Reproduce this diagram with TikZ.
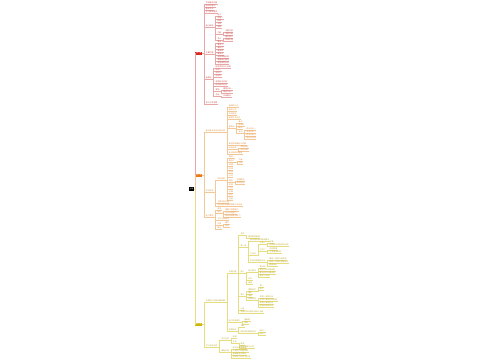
\documentclass[tikz,border=0pt]{standalone}
\usepackage{fontspec}
\setmainfont{Noto Sans CJK SC}
\definecolor{rT}{HTML}{C8504F}
\definecolor{rL}{HTML}{E8A8A8}
\definecolor{rF}{HTML}{D42A22}
\definecolor{oT}{HTML}{DC9448}
\definecolor{oL}{HTML}{F3C898}
\definecolor{oF}{HTML}{EA7A15}
\definecolor{yT}{HTML}{B8AA38}
\definecolor{yL}{HTML}{E6DC80}
\definecolor{yF}{HTML}{CDB60A}
\tikzset{
  leafbase/.style={anchor=south west, inner xsep=0.3pt, inner ysep=0.4pt, font=\fontsize{1.9}{1.9}\selectfont},
  lfr/.style={leafbase, text=rT},
  lfo/.style={leafbase, text=oT},
  lfy/.style={leafbase, text=yT},
  lnr/.style={draw=rL, line width=0.3pt},
  lno/.style={draw=oL, line width=0.3pt},
  lny/.style={draw=yL, line width=0.3pt},
  mainbox/.style={minimum width=7pt, minimum height=3pt, inner sep=0pt, text=white, font=\fontsize{1.6}{1.6}\selectfont},
}
% first-level child: name, parent, y, text, branch
\newcommand\mmf[5]{%
  \node[lf#5, xshift=3pt] (#1) at (#2.east |- 0,#3) {#4};
  \draw[ln#5] (#1.south west) -- (#1.south east);
  \draw[ln#5] (#2.east) -- ++(1.5pt,0) |- (#1.south west);
}
% deeper child
\newcommand\mmn[5]{%
  \node[lf#5, xshift=3pt] (#1) at (#2.south east |- 0,#3) {#4};
  \draw[ln#5] (#1.south west) -- (#1.south east);
  \draw[ln#5] (#2.south east) -- ++(1.5pt,0) |- (#1.south west);
}
\begin{document}
\begin{tikzpicture}[x=1pt,y=-1pt]
\useasboundingbox (0,0) rectangle (500,360);
% root and main branches
\node[fill=black, minimum width=5pt, minimum height=4pt, inner sep=0pt, text=white, font=\fontsize{1.6}{1.6}\selectfont] (R) at (191.5,189) {主题};
\node[mainbox, fill=rF] (M1) at (198.7,53) {第一章};
\node[mainbox, fill=oF] (M2) at (198.7,175) {第二章};
\node[mainbox, fill=yF] (M3) at (198.7,324) {第三章};
\draw[rL, line width=0.45pt] (R.east) -- ++(1pt,0) |- (M1.west);
\draw[oL, line width=0.45pt] (R.east) -- ++(1pt,0) |- (M2.west);
\draw[yL, line width=0.45pt] (R.east) -- ++(1pt,0) |- (M3.west);

% ---------------- red
\mmf{r1}{M1}{4}{学科概述内容}{r}
\mmf{r2}{M1}{7}{研究对象与}{r}
\mmf{r3}{M1}{10}{基本方法}{r}
\mmf{r4}{M1}{13}{学习目标要求}{r}
\mmf{r5}{M1}{27}{核心概念}{r}
 \mmn{r5a}{r5}{16}{定义}{r}
 \mmn{r5b}{r5}{19}{特征一}{r}
 \mmn{r5c}{r5}{22}{性质}{r}
 \mmn{r5d}{r5}{25}{分类}{r}
 \mmn{r5e}{r5}{28}{结构}{r}
 \mmn{r5f}{r5}{34}{功能}{r}
  \mmn{r5fa}{r5f}{32}{主要功能}{r}
  \mmn{r5fb}{r5f}{35}{次要作用}{r}
 \mmn{r5g}{r5}{40}{意义}{r}
  \mmn{r5ga}{r5g}{38}{理论意义}{r}
  \mmn{r5gb}{r5g}{41}{实践价值}{r}
\mmf{r6}{M1}{54}{主要内容}{r}
 \mmn{r6a}{r6}{43}{要点一}{r}
 \mmn{r6b}{r6}{46}{要点二}{r}
 \mmn{r6c}{r6}{49}{要点三}{r}
 \mmn{r6d}{r6}{52}{要点四}{r}
 \mmn{r6e}{r6}{55}{要点五}{r}
 \mmn{r6f}{r6}{58}{相关原理说明}{r}
 \mmn{r6g}{r6}{61}{重要结论推导}{r}
 \mmn{r6h}{r6}{64}{典型例题分析}{r}
\mmf{r7}{M1}{79}{拓展点}{r}
 \mmn{r7a}{r7}{68}{相关学科交叉应用}{r}
 \mmn{r7b}{r7}{71}{应用一}{r}
 \mmn{r7c}{r7}{74}{应用二}{r}
 \mmn{r7d}{r7}{77}{应用三}{r}
 \mmn{r7e}{r7}{83}{发展历史沿革}{r}
 \mmn{r7f}{r7}{86}{前沿研究动态}{r}
 \mmn{r7g}{r7}{91}{案例}{r}
  \mmn{r7ga}{r7g}{90}{案例分析一}{r}
  \mmn{r7gb}{r7g}{93}{案例分析二}{r}
 \mmn{r7h}{r7}{96}{总结}{r}
  \mmn{r7ha}{r7h}{97}{归纳要点}{r}
\mmf{r8}{M1}{104}{复习与思考题}{r}

% ---------------- orange
\mmf{o1}{M2}{132}{重点难点知识归纳总结}{o}
 \mmn{o1a}{o1}{107}{基础知识点}{o}
 \mmn{o1b}{o1}{111}{基本公式}{o}
 \mmn{o1c}{o1}{115}{常见题型}{o}
 \mmn{o1d}{o1}{119}{解题方法技巧}{o}
 \mmn{o1e}{o1}{128}{重难点}{o}
  \mmn{o1ea}{o1e}{123}{难点}{o}
  \mmn{o1eb}{o1e}{126}{易错点}{o}
  \mmn{o1ec}{o1e}{129}{疑点}{o}
  \mmn{o1ed}{o1e}{133}{考点}{o}
   \mmn{o1eda}{o1ed}{130}{考点分析一}{o}
   \mmn{o1edb}{o1ed}{133}{考点分析二}{o}
   \mmn{o1edc}{o1ed}{136}{考点分析三}{o}
   \mmn{o1edd}{o1ed}{139}{考点分析四}{o}
 \mmn{o1f}{o1}{145}{典型例题解析与讲解}{o}
 \mmn{o1g}{o1}{149}{综合应用}{o}
  \mmn{o1ga}{o1g}{148}{实际问题}{o}
  \mmn{o1gb}{o1g}{151}{综合训练}{o}
 \mmn{o1h}{o1}{154}{知识网络构建图}{o}
\mmf{o2}{M2}{192}{知识体系}{o}
 \mmn{o2a}{o2}{180}{知识结构}{o}
  \mmn{o2a1}{o2a}{158}{概念一}{o}
  \mmn{o2a2}{o2a}{162}{概念二}{o}
   \mmn{o2a2a}{o2a2}{161}{内涵}{o}
   \mmn{o2a2b}{o2a2}{164}{外延}{o}
  \mmn{o2a3}{o2a}{166}{原理}{o}
  \mmn{o2a4}{o2a}{170}{规律}{o}
  \mmn{o2a5}{o2a}{173}{定律}{o}
  \mmn{o2a6}{o2a}{177}{公式}{o}
  \mmn{o2a7}{o2a}{182}{模型}{o}
   \mmn{o2a7a}{o2a7}{181}{物理模型}{o}
   \mmn{o2a7b}{o2a7}{184}{数学模型}{o}
  \mmn{o2a8}{o2a}{186}{实验}{o}
  \mmn{o2a9}{o2a}{189}{方法}{o}
  \mmn{o2a10}{o2a}{193}{步骤}{o}
  \mmn{o2a11}{o2a}{196}{结论}{o}
  \mmn{o2a12}{o2a}{200}{应用}{o}
 \mmn{o2b}{o2}{203}{主要考查内容}{o}
 \mmn{o2c}{o2}{206}{常见题型及解题思路方法总结}{o}
\mmf{o3}{M2}{217}{能力要求}{o}
 \mmn{o3a}{o3}{210}{要求}{o}
 \mmn{o3b}{o3}{213}{能力}{o}
  \mmn{o3ba}{o3b}{211}{理解与掌握能力}{o}
  \mmn{o3bb}{o3b}{214}{分析问题能力}{o}
  \mmn{o3bc}{o3b}{217}{综合运用知识能力}{o}
 \mmn{o3c}{o3}{220}{学习方法建议}{o}
 \mmn{o3d}{o3}{225}{注意}{o}
  \mmn{o3da}{o3d}{224}{细节}{o}
  \mmn{o3db}{o3d}{227}{规范}{o}
 \mmn{o3e}{o3}{229}{备注}{o}

% ---------------- yellow
\mmf{y1}{M3}{302}{专题知识内容详细讲解}{y}
 \mmn{ya}{y1}{273}{专题内容}{y}
  \mmn{ya1}{ya}{235}{总述}{y}
   \mmn{ya1a}{ya1}{238}{整体框架梳理}{y}
  \mmn{ya2}{ya}{247}{第一部}{y}
   \mmn{ya21}{ya2}{241}{基本理论知识概述要点}{y}
   \mmn{ya22}{ya2}{255}{方法论}{y}
    \mmn{ya221}{ya22}{244}{方法一}{y}
     \mmn{ya221a}{ya221}{243}{步骤}{y}
     \mmn{ya221b}{ya221}{246}{具体操作流程说明示例}{y}
    \mmn{ya222}{ya22}{251}{方法二}{y}
     \mmn{ya222a}{ya222}{250}{适用范围}{y}
     \mmn{ya222b}{ya222}{253}{注意事项说明}{y}
   \mmn{ya23}{ya2}{262}{实际应用案例分析}{y}
    \mmn{ya23a}{ya23}{260}{案例一背景介绍说明}{y}
    \mmn{ya23b}{ya23}{263}{案例二过程与结果分析}{y}
    \mmn{ya23c}{ya23}{266}{案例启示}{y}
  \mmn{ya3}{ya}{273}{第二}{y}
   \mmn{ya31}{ya3}{272}{核心要点}{y}
    \mmn{ya31a}{ya31}{268}{要点甲}{y}
    \mmn{ya31b}{ya31}{271}{要点乙的详细说明}{y}
    \mmn{ya31c}{ya31}{274}{要点丙的详细说明}{y}
    \mmn{ya31d}{ya31}{277}{要点丁说明}{y}
   \mmn{ya32}{ya3}{280}{补充}{y}
   \mmn{ya33}{ya3}{284}{延伸}{y}
  \mmn{ya4}{ya}{296}{第三}{y}
   \mmn{ya41}{ya4}{291}{重要结论}{y}
    \mmn{ya41a}{ya41}{287}{其一}{y}
    \mmn{ya41b}{ya41}{290}{其二}{y}
   \mmn{ya42}{ya4}{294}{推论}{y}
   \mmn{ya43}{ya4}{297}{证明}{y}
   \mmn{ya44}{ya4}{300}{应用举例}{y}
    \mmn{ya44a}{ya44}{298}{举例一具体分析}{y}
    \mmn{ya44b}{ya44}{301}{举例二具体分析过程}{y}
    \mmn{ya44c}{ya44}{304}{举例三具体分析}{y}
    \mmn{ya44d}{ya44}{307}{举例四具体分析}{y}
  \mmn{ya5}{ya}{310}{小结}{y}
  \mmn{ya6}{ya}{313}{本部分知识要点总结与归纳}{y}
 \mmn{yb}{y1}{322}{练习巩固提升}{y}
  \mmn{yba}{yb}{321}{基础题}{y}
  \mmn{ybb}{yb}{324}{提高}{y}
 \mmn{yc}{y1}{331}{拓展阅读}{y}
  \mmn{yca}{yc}{327}{书目}{y}
  \mmn{ycb}{yc}{333}{相关资料推荐阅读}{y}
   \mmn{ycba}{ycb}{332}{资料一}{y}
   \mmn{ycbb}{ycb}{335}{资料二}{y}
\mmf{y2}{M3}{347}{学习总结反思}{y}
 \mmn{y2a}{y2}{340}{学习反思}{y}
  \mmn{y2a1}{y2a}{338}{收获}{y}
  \mmn{y2a2}{y2a}{343}{不足}{y}
   \mmn{y2a2a}{y2a2}{345}{改进}{y}
   \mmn{y2a2b}{y2a2}{348}{改进措施与计划}{y}
 \mmn{y2b}{y2}{352}{课程总结}{y}
  \mmn{y2b1}{y2b}{349}{知识点回顾梳理}{y}
  \mmn{y2b2}{y2b}{352}{方法技巧总结归纳}{y}
  \mmn{y2b3}{y2b}{355}{易错易混点辨析}{y}
  \mmn{y2b4}{y2b}{358}{后续学习计划与安排}{y}
\end{tikzpicture}
\end{document}
